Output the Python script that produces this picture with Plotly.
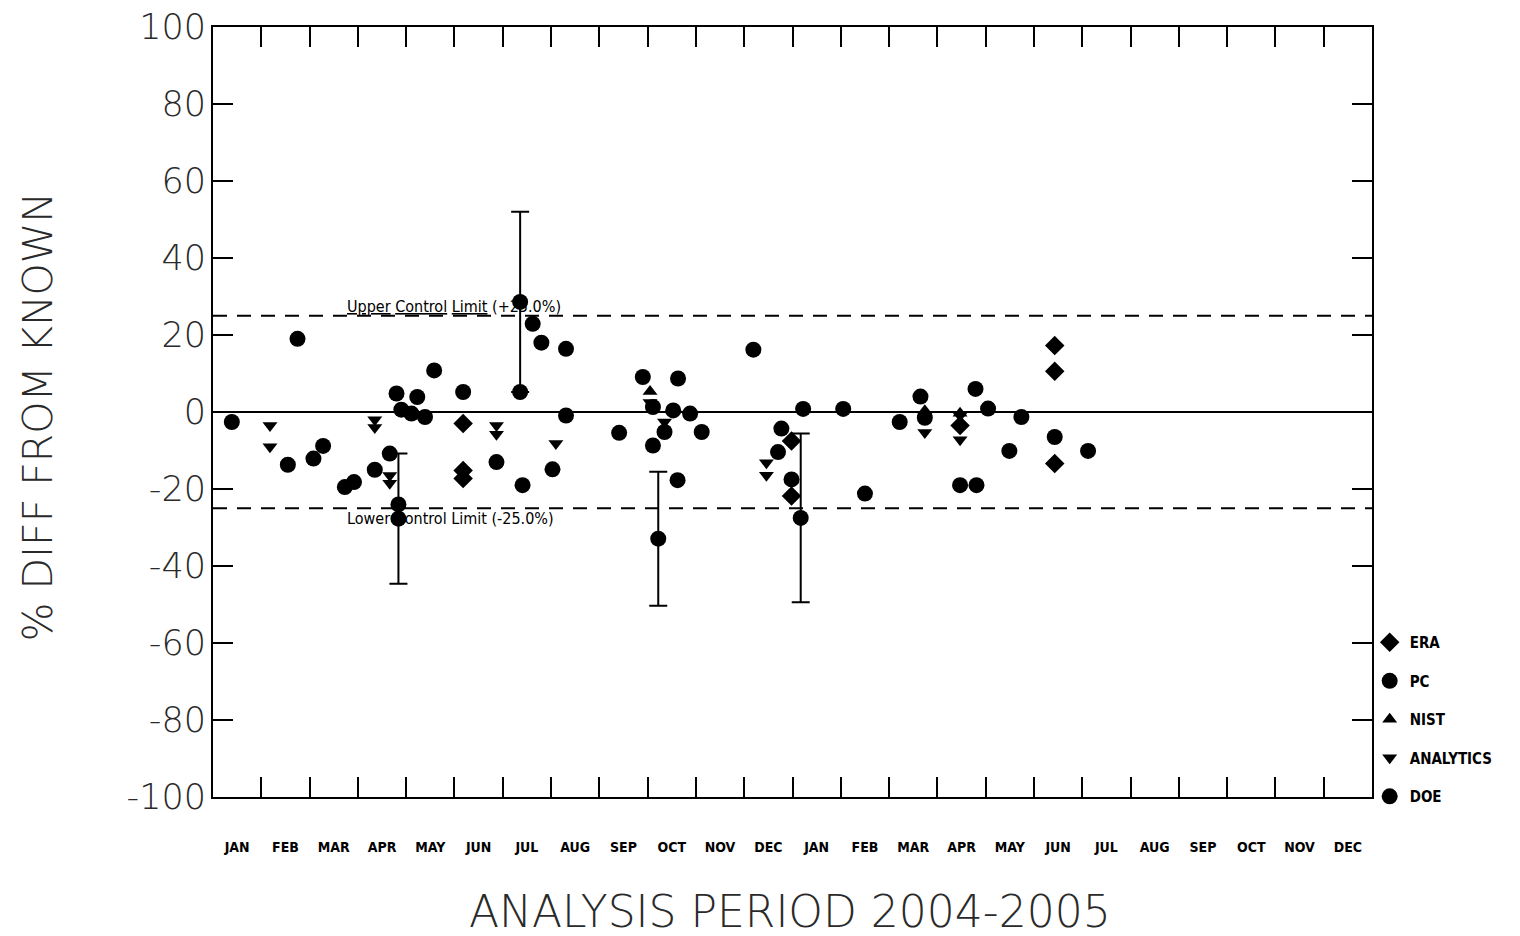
import plotly.graph_objects as go

# ---- data (x = months elapsed since 1 Jan 2004, fractional) ----
months = ["JAN", "FEB", "MAR", "APR", "MAY", "JUN", "JUL", "AUG", "SEP", "OCT", "NOV", "DEC",
          "JAN", "FEB", "MAR", "APR", "MAY", "JUN", "JUL", "AUG", "SEP", "OCT", "NOV", "DEC"]

era_x = [5.18, 5.18, 5.18, 11.98, 11.98, 15.47, 17.43, 17.43, 17.43]
era_y = [-3.0, -15.2, -17.3, -7.5, -21.8, -3.5, 17.3, 10.6, -13.4]

pc_x = [0.39, 1.75, 1.55, 2.08, 2.28, 2.73, 2.92, 3.35, 3.66, 3.80, 3.84, 3.90, 4.11, 4.23,
        4.39, 4.58, 5.18, 5.87, 6.36, 6.41, 6.62, 6.80, 7.03, 7.31, 7.31, 8.41, 8.90, 9.11,
        9.63, 9.53, 9.88, 9.35, 10.12, 9.11, 9.62, 11.19, 11.77, 11.70, 11.98, 12.22, 13.05,
        13.50, 14.22, 14.65, 14.74, 15.47, 15.81, 15.79, 16.05, 16.49, 16.74, 17.43, 18.12]
pc_y = [-2.6, 19.0, -13.7, -12.1, -8.8, -19.5, -18.2, -15.0, -10.8, 4.8, -24.0, 0.6, -0.4, 3.9,
        -1.3, 10.8, 5.2, -13.0, 5.2, -19.0, 22.9, 18.0, -14.9, 16.4, -0.9, -5.4, 9.1, 1.3,
        8.7, 0.4, -0.4, -5.2, -5.2, -8.7, -17.7, 16.2, -4.3, -10.4, -17.5, 0.8, 0.8,
        -21.2, -2.6, 4.0, -1.5, -19.0, -19.0, 6.0, 0.9, -10.1, -1.3, -6.5, -10.1]

nist_x = [9.05, 14.74, 15.47]
nist_y = [5.3, 0.3, -0.3]

analytics_x = [1.18, 1.18, 3.35, 3.35, 3.66, 3.66, 5.87, 5.87, 7.10, 9.05, 9.35, 11.46,
               11.46, 14.74, 15.47, 15.47]
analytics_y = [-3.5, -9.0, -2.0, -4.0, -16.5, -18.5, -3.5, -5.8, -8.2, 2.5, -2.6, -13.2,
               -16.4, -5.3, -1.0, -7.2]

doe_x = [3.84, 6.36, 9.22, 12.17]
doe_y = [-27.7, 28.6, -32.9, -27.5]
doe_err = [16.9, 23.4, 17.4, 21.9]

UCL = 25.0
LCL = -25.0
y_ticks = [100, 80, 60, 40, 20, 0, -20, -40, -60, -80, -100]

month_bounds = list(range(1, len(months)))
month_centers = [i + 0.5 for i in range(len(months))]

# ---- figure ----
fig = go.Figure()

no_line = dict(width=0)

fig.add_trace(go.Scatter(x=era_x, y=era_y, mode="markers", name="ERA", legendgroup="a",
                         marker=dict(symbol="diamond", size=15, color="black", line=no_line)))
fig.add_trace(go.Scatter(x=pc_x, y=pc_y, mode="markers", name="PC", legendgroup="b",
                         marker=dict(symbol="circle", size=16, color="black", line=no_line)))
fig.add_trace(go.Scatter(x=nist_x, y=nist_y, mode="markers", name="NIST", legendgroup="c",
                         marker=dict(symbol="triangle-up", size=13, color="black", line=no_line)))
fig.add_trace(go.Scatter(x=analytics_x, y=analytics_y, mode="markers", name="ANALYTICS", legendgroup="d",
                         marker=dict(symbol="triangle-down", size=13, color="black", line=no_line)))
fig.add_trace(go.Scatter(x=doe_x, y=doe_y, mode="markers", name="DOE", legendgroup="e",
                         marker=dict(symbol="circle", size=16, color="black", line=no_line),
                         error_y=dict(type="data", array=doe_err, visible=True, color="black",
                                      thickness=2, width=9)))

# invisible trace on the label axis so that it is drawn
fig.add_trace(go.Scatter(x=month_centers, y=[None] * len(month_centers), xaxis="x2",
                         mode="markers", showlegend=False, hoverinfo="skip"))

for lim in (UCL, LCL):
    fig.add_shape(type="line", xref="paper", x0=0, x1=1, yref="y", y0=lim, y1=lim,
                  line=dict(color="black", width=2, dash="14px,10px"), layer="below")

label_font = dict(family="Liberation Sans Narrow, DejaVu Sans Condensed, Arial Narrow, sans-serif",
                  size=16, color="black")
fig.add_annotation(x=2.73, y=UCL, xref="x", yref="y", xanchor="left", yanchor="bottom",
                   text="<u>Upper</u> <u>Control</u> <u>Limit</u> (+25.0%)", showarrow=False,
                   font=label_font, yshift=-2)
fig.add_annotation(x=2.73, y=LCL, xref="x", yref="y", xanchor="left", yanchor="top",
                   text="Lower Control Limit (-25.0%)", showarrow=False, font=label_font, yshift=1)

fig.add_annotation(x=-0.151, y=0.494, xref="paper", yref="paper", text="% DIFF FROM KNOWN",
                   textangle=-90, showarrow=False,
                   font=dict(family="DejaVu Sans, sans-serif", size=41, color="#2a2a2a", weight=300),
                   xanchor="center", yanchor="middle")
fig.add_annotation(x=0.498, y=-0.149, xref="paper", yref="paper", text="ANALYSIS PERIOD 2004-2005",
                   showarrow=False,
                   font=dict(family="DejaVu Sans, sans-serif", size=44, color="#2a2a2a", weight=300),
                   xanchor="center", yanchor="middle")

fig.update_layout(
    width=1520, height=936,
    margin=dict(l=213, r=148, t=27, b=139, autoexpand=False),
    paper_bgcolor="white", plot_bgcolor="white",
    showlegend=True,
    legend=dict(x=0.998, y=0.222, xanchor="left", yanchor="top", bgcolor="rgba(0,0,0,0)",
                tracegroupgap=16, itemwidth=30, traceorder="grouped",
                font=dict(family="Liberation Sans Narrow, DejaVu Sans Condensed, Arial Narrow, sans-serif",
                          size=15, color="black", weight="bold")),
    xaxis=dict(range=[0, len(months)], tickvals=month_bounds, showticklabels=False,
               ticks="inside", ticklen=20, tickwidth=2, tickcolor="black", automargin=False,
               showline=True, linecolor="black", linewidth=2, mirror="ticks",
               showgrid=False, zeroline=False, fixedrange=True),
    xaxis2=dict(range=[0, len(months)], overlaying="x", side="bottom", tickvals=month_centers,
                ticktext=months, ticks="", showline=False, showgrid=False, zeroline=False,
                ticklabelstandoff=40, automargin=False,
                tickfont=dict(family="Liberation Sans Narrow, DejaVu Sans Condensed, Arial Narrow, sans-serif",
                              size=14, color="black", weight="bold")),
    yaxis=dict(range=[-100, 100], tickvals=y_ticks, ticktext=[str(v) for v in y_ticks],
               ticks="inside", ticklen=20, tickwidth=2, tickcolor="black", automargin=False,
               showline=True, linecolor="black", linewidth=2, mirror="ticks",
               showgrid=False, zeroline=True, zerolinecolor="black", zerolinewidth=2,
               tickfont=dict(family="DejaVu Sans, sans-serif", size=35, color="#2a2a2a", weight=300),
               ticklabelstandoff=-2),
)

fig.write_html("out.html")
